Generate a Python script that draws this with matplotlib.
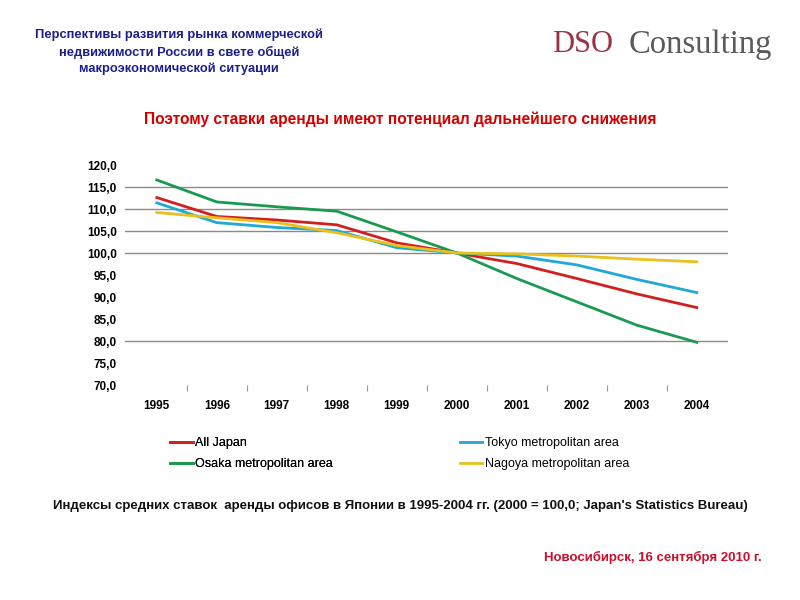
import matplotlib
matplotlib.use("Agg")
import matplotlib.pyplot as plt
from matplotlib.ticker import FixedLocator

years = [1995, 1996, 1997, 1998, 1999, 2000, 2001, 2002, 2003, 2004]
all_japan = [112.6, 108.3, 107.5, 106.4, 102.3, 100.0, 97.6, 94.2, 90.7, 87.6]
tokyo = [111.4, 106.9, 105.8, 105.1, 101.2, 100.0, 99.3, 97.3, 94.0, 91.0]
osaka = [116.6, 111.6, 110.5, 109.5, 104.8, 100.0, 94.2, 88.9, 83.6, 79.7]
nagoya = [109.2, 108.0, 106.9, 104.6, 101.7, 100.0, 99.8, 99.3, 98.6, 98.0]
yticks = [70, 75, 80, 85, 90, 95, 100, 105, 110, 115, 120]
gridvals = [80, 100, 105, 110, 115]

plt.rcParams['font.family'] = ['Liberation Sans', 'DejaVu Sans']

fig = plt.figure(figsize=(8, 6), dpi=100)
W, H = 800, 600
ax = fig.add_axes([125 / W, 1 - 385 / H, (728 - 125) / W, (385 - 165) / H])

ax.set_xlim(1994.47, 2004.52)
ax.set_ylim(70, 120)
for g in gridvals:
    ax.axhline(g, color='#8a8a8a', lw=1.0, zorder=1)

l1, = ax.plot(years, all_japan, color='#d21f1f', lw=2.0, label='All Japan', zorder=3)
l2, = ax.plot(years, tokyo, color='#1fa8d8', lw=2.0, label='Tokyo metropolitan area', zorder=3)
l3, = ax.plot(years, osaka, color='#1a9a50', lw=2.0, label='Osaka metropolitan area', zorder=3)
l4, = ax.plot(years, nagoya, color='#e8c21a', lw=2.0, label='Nagoya metropolitan area', zorder=4)

for s in ax.spines.values():
    s.set_visible(False)
ax.set_yticks(yticks)
ax.set_yticklabels([f"{v:.1f}".replace('.', ',') for v in yticks],
                   fontsize=8.5, fontweight='bold')
ax.set_xticks(years)
ax.set_xticklabels([str(y) for y in years], fontsize=8.5, fontweight='bold')
ax.tick_params(axis='y', length=0, pad=6)
ax.tick_params(axis='x', which='major', length=0, pad=11)
ax.xaxis.set_minor_locator(FixedLocator([y + 0.5 for y in years[:-1]]))
ax.tick_params(axis='x', which='minor', length=4, color='#999999', width=0.8)

# legends (two columns placed separately)
leg_kw = dict(loc='upper left', frameon=False, fontsize=9, handlelength=1.8,
              handletextpad=0.2, labelspacing=0.75, borderpad=0, borderaxespad=0)
legA = fig.legend([l1, l3], ['All Japan', 'Osaka metropolitan area'],
                  bbox_to_anchor=(170 / W, 1 - 437 / H), **leg_kw)
legB = fig.legend([l2, l4], ['Tokyo metropolitan area', 'Nagoya metropolitan area'],
                  bbox_to_anchor=(460 / W, 1 - 437 / H), **leg_kw)
fig.add_artist(legA)

# header texts
fig.text(179 / W, 1 - 52 / H,
         "Перспективы развития рынка коммерческой\nнедвижимости России в свете общей\nмакроэкономической ситуации",
         ha='center', va='center', fontsize=9.3, fontweight='bold',
         color='#1c1f8a', linespacing=1.45)

fig.text(552 / W, 1 - 45 / H, "DSO", ha='left', va='center',
         fontsize=22, color='#9a3346', family=['Liberation Serif', 'DejaVu Serif'])
fig.text(629 / W, 1 - 45 / H, "Consulting", ha='left', va='center',
         fontsize=23.5, color='#5a5a5a', family=['Liberation Serif', 'DejaVu Serif'])

fig.text(400 / W, 1 - 119 / H,
         "Поэтому ставки аренды имеют потенциал дальнейшего снижения",
         ha='center', va='center', fontsize=11.2, fontweight='bold', color='#d40000')

fig.text(400 / W, 1 - 506 / H,
         "Индексы средних ставок  аренды офисов в Японии в 1995-2004 гг. (2000 = 100,0; Japan's Statistics Bureau)",
         ha='center', va='center', fontsize=9.5, fontweight='bold', color='#111111',
         family=['Liberation Sans Narrow', 'Liberation Sans', 'DejaVu Sans'])

fig.text(762 / W, 1 - 557 / H, "Новосибирск, 16 сентября 2010 г.",
         ha='right', va='center', fontsize=9.5, fontweight='bold', color='#c8102e',
         family=['Liberation Sans Narrow', 'Liberation Sans', 'DejaVu Sans'])

fig.savefig("out.png", dpi=100, facecolor='white')
